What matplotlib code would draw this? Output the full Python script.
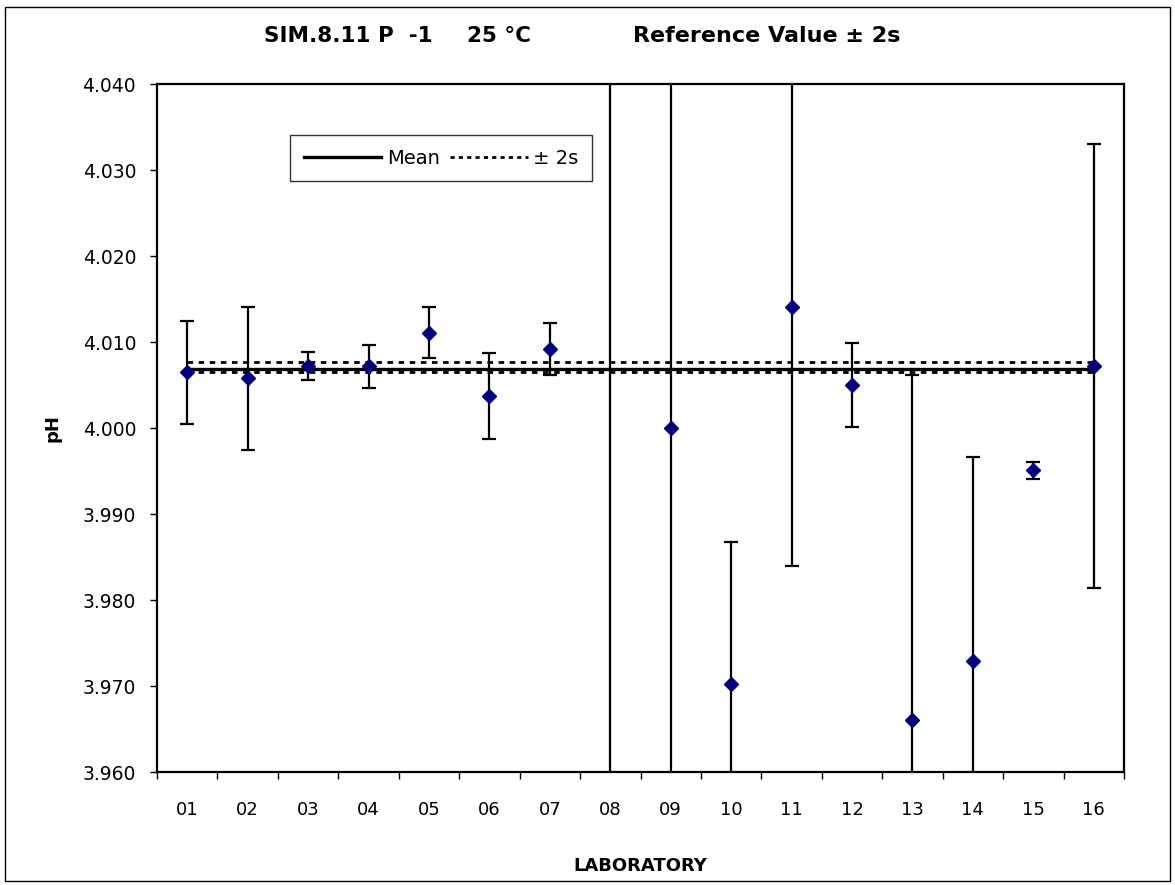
import matplotlib
matplotlib.use('Agg')
import matplotlib.pyplot as plt
from matplotlib.lines import Line2D
from matplotlib.patches import Rectangle

# laboratory results, pH at 25 °C with expanded uncertainty
labs = ['01', '02', '03', '04', '05', '06', '07', '08',
        '09', '10', '11', '12', '13', '14', '15', '16']
ph = [4.0065, 4.0058, 4.0072, 4.0072, 4.0111, 4.0037, 4.0092, 3.9500,
      4.0000, 3.9702, 4.0141, 4.0050, 3.9661, 3.9729, 3.9951, 4.0072]
err = [0.0060, 0.0083, 0.0016, 0.0025, 0.0030, 0.0050, 0.0030, 0.1000,
       0.0500, 0.0165, 0.0301, 0.0049, 0.0401, 0.0237, 0.0010, 0.0258]

mean_ph = 4.0069
upper_2s = 4.0077
lower_2s = 4.0065

fig = plt.figure(figsize=(11.75, 8.85), dpi=100)
ax = fig.add_axes([157/1175, 1-772/885, 967/1175, 688/885])

x = list(range(1, len(labs) + 1))

# reference value lines, from first to last lab
ax.plot([x[0], x[-1]], [mean_ph, mean_ph], color='black', lw=2.4, zorder=2)
ax.plot([x[0], x[-1]], [upper_2s, upper_2s], color='black', lw=2, ls=(0, (2, 2)), zorder=2)
ax.plot([x[0], x[-1]], [lower_2s, lower_2s], color='black', lw=2, ls=(0, (2, 2)), zorder=2)

ax.errorbar(x, ph, yerr=err, fmt='none', ecolor='black', elinewidth=1.6,
            capsize=5, capthick=1.6, zorder=3)
ax.plot(x, ph, 'D', color='#000080', ms=7, zorder=4)

ax.set_xlim(0.5, 16.5)
ax.set_ylim(3.960, 4.040)
ax.set_yticks([3.960, 3.970, 3.980, 3.990, 4.000, 4.010, 4.020, 4.030, 4.040])
ax.set_yticklabels(['%.3f' % v for v in ax.get_yticks()])

# ticks at category borders, labels in the middle
ax.set_xticks([i + 0.5 for i in range(0, 17)])
ax.set_xticklabels([])
ax.set_xticks(x, minor=True)
ax.set_xticklabels(labs, minor=True)
ax.tick_params(axis='x', which='major', direction='out', length=5, width=1)
ax.tick_params(axis='x', which='minor', length=0, pad=21, labelsize=13)
ax.tick_params(axis='y', direction='out', length=5, width=1, labelsize=13.5, pad=10)

for s in ax.spines.values():
    s.set_linewidth(1.6)

ax.set_ylabel('pH', fontsize=13, fontweight='bold', labelpad=15)
ax.set_xlabel('LABORATORY', fontsize=13, fontweight='bold', labelpad=27)

# title in three pieces, spaced like the original
fig.text(264/1175, 0.959, 'SIM.8.11 P  -1', ha='left', va='center', fontsize=15.5, fontweight='bold')
fig.text(467/1175, 0.959, '25 °C', ha='left', va='center', fontsize=15.5, fontweight='bold')
fig.text(633/1175, 0.959, 'Reference Value ± 2s', ha='left', va='center', fontsize=16, fontweight='bold')

handles = [Line2D([], [], color='black', lw=2.4),
           Line2D([], [], color='black', lw=2, ls=(0, (1.5, 1.5)))]
leg = ax.legend(handles, ['Mean', '± 2s'], ncol=2, loc='upper left',
                bbox_to_anchor=(0.1375, 0.926), borderaxespad=0, fontsize=14,
                frameon=True, fancybox=False, handlelength=4.0, handletextpad=0.3,
                columnspacing=0.5, borderpad=0.7)
leg.get_frame().set_edgecolor('black')
leg.get_frame().set_linewidth(1)

fig.patches.append(Rectangle((0.004, 0.004), 0.992, 0.988, transform=fig.transFigure,
                             fill=False, edgecolor='black', lw=1))

fig.savefig('out.png', dpi=100)
